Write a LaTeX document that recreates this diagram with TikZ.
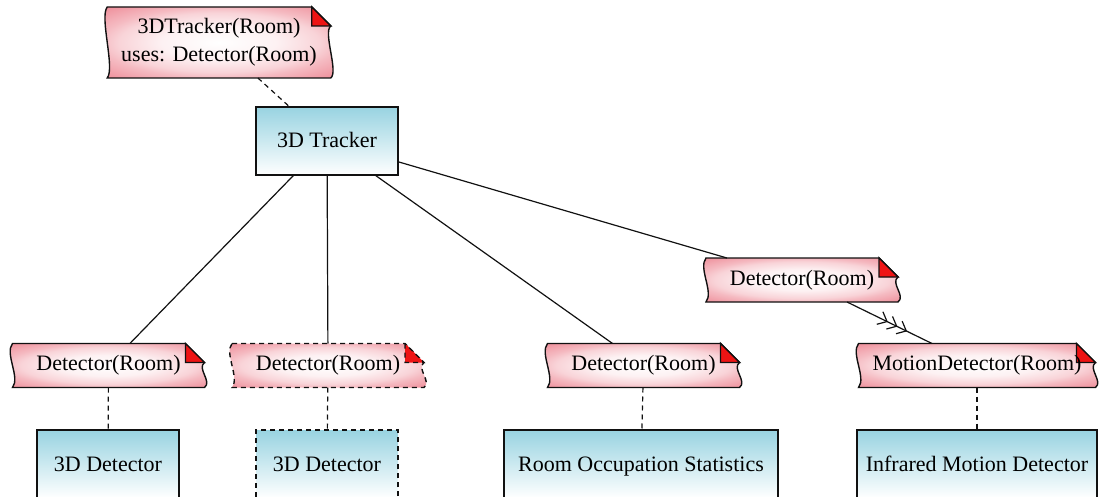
\documentclass[tikz,border=0pt]{standalone}
\usepackage{fontspec}
\setmainfont{Liberation Serif}
\usetikzlibrary{arrows.meta,backgrounds,decorations.markings}
\definecolor{ink}{HTML}{111111}
\definecolor{boxtop}{HTML}{98D3E1}
\definecolor{paper}{HTML}{EE8C98}
\definecolor{fold}{HTML}{EE1414}

\pgfdeclareradialshading{notegrad}{\pgfpoint{0bp}{0bp}}{%
  color(0bp)=(white); color(12bp)=(white!88!paper); color(21bp)=(white!62!paper);
  color(25bp)=(white!40!paper); color(35bp)=(paper); color(50bp)=(paper)}

% note paper with wavy sides and folded corner, drawn behind a named node
\newcommand{\notepaper}[2][]{%
  \begin{scope}[on background layer]
    \path[notefill,#1] (#2.north west) -- ([xshift=-9.5pt]#2.north east)
      -- ([yshift=-9.5pt]#2.north east)
      .. controls +(-4pt,-3pt) and +(4pt,3pt) .. (#2.south east)
      -- (#2.south west)
      .. controls +(4pt,5pt) and +(-4pt,-5pt) .. (#2.north west) -- cycle;
    \path[notefold,#1] ([xshift=-9.5pt]#2.north east)
      -- ([xshift=-9.5pt,yshift=-9.5pt]#2.north east)
      -- ([yshift=-9.5pt]#2.north east) -- cycle;
  \end{scope}}

\begin{document}
\begin{tikzpicture}[
  x=0.5pt, y=-0.5pt,
  font=\fontsize{11}{14}\selectfont,
  ghost/.style    = {dash pattern=on 2.5pt off 2pt},
  box/.style      = {draw=ink, line width=0.7pt, top color=boxtop, bottom color=white,
                     minimum width=71pt, minimum height=34pt, inner sep=3pt, outer sep=0pt,
                     text height=9.5pt, text depth=2.5pt},
  note/.style     = {minimum width=96pt, minimum height=22pt, inner xsep=7pt, inner ysep=3pt,
                     outer sep=0pt, align=center},
  notefill/.style = {draw=ink, line width=0.7pt, shading=notegrad},
  notefold/.style = {draw=ink, line width=0.7pt, fill=fold},
  link/.style     = {draw=ink, line width=0.6pt},
  tie/.style      = {link, ghost},
  refine/.style   = {link, >={Straight Barb[length=4pt,width=7pt,line width=0.6pt,sep=0.6pt]},
                     postaction={decorate},
                     decoration={markings, mark=at position 0.72 with {\arrow{>>>}}}},
]
\useasboundingbox (0,0) rectangle (1101,497);
\clip (0,0) rectangle (1101,497);

% ---------- components ----------
\node[box] (tracker) at (327,141) {3D Tracker};
\node[box] (det3d) at (108,464) {3D Detector};
\node[box, ghost] (det3dalt) at (327,464) {3D Detector};
\node[box, minimum width=137pt] (stats) at (641,464) {Room Occupation Statistics};
\node[box, minimum width=120pt] (infra) at (977,464) {Infrared Motion Detector};

% ---------- notes ----------
\node[note, minimum width=111pt, minimum height=35.5pt] (trknote) at (219,42.5)
  {3DTracker(Room)\\uses: Detector(Room)};
\node[note] (detup) at (802,280) {Detector(Room)};
\node[note] (detA) at (108.5,365.5) {Detector(Room)};
\node[note] (detB) at (328,365.5) {Detector(Room)};
\node[note] (detC) at (643.5,365.5) {Detector(Room)};
\node[note] (motion) at (977,365.5) {MotionDetector(Room)};

\notepaper{trknote}
\notepaper{detup}
\notepaper{detA}
\notepaper[ghost]{detB}
\notepaper{detC}
\notepaper{motion}

% ---------- connectors ----------
\draw[tie] (trknote) -- (tracker);
\draw[link] (tracker) -- (detA);
\draw[link] (tracker) -- (detB);
\draw[link] (tracker) -- (detC);
\draw[link] (tracker) -- (detup);
\draw[refine] (detup) -- (motion);
\draw[tie] (detA) -- (det3d);
\draw[tie] (detB) -- (det3dalt);
\draw[tie] (detC) -- (stats);
\draw[tie] (motion) -- (infra);

\end{tikzpicture}
\end{document}
